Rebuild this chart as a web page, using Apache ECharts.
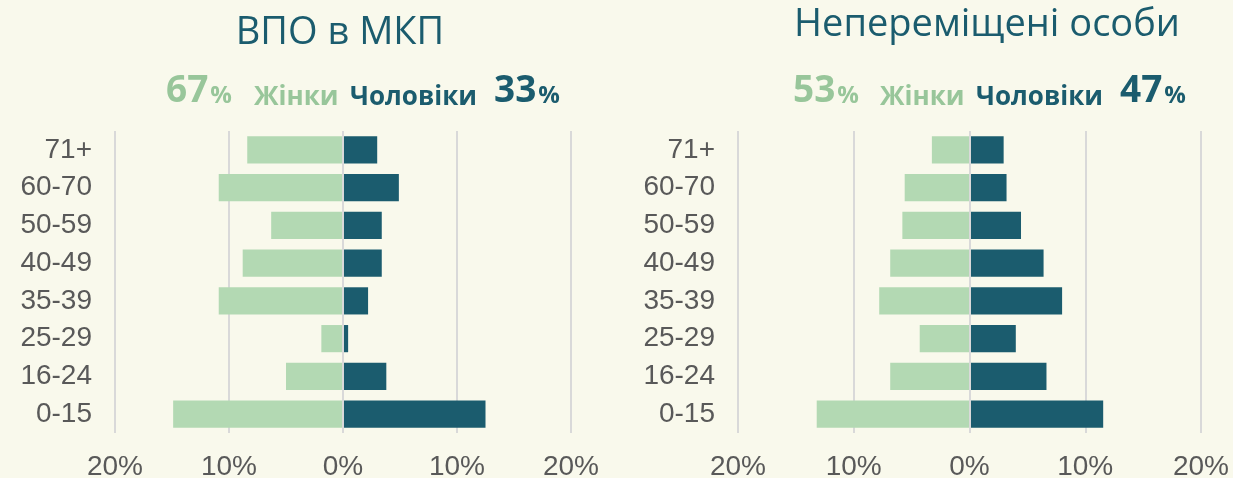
<!DOCTYPE html>
<html>
<head>
<meta charset="utf-8">
<script src="https://cdn.jsdelivr.net/npm/echarts@6/dist/echarts.min.js"></script>
<style>
	html, body { margin: 0; padding: 0; background: #f9f9ec; }
	#pyramid { width: 1233px; height: 478px; }
</style>
</head>
<body>
<div id="pyramid"></div>
<script>
// вікові групи, знизу вгору
var ageGroups = ['0-15', '16-24', '25-29', '35-39', '40-49', '50-59', '60-70', '71+'];

// ВПО в МКП, % від усіх осіб
var idpWomen = [14.9, 5.0, 1.9, 10.9, 8.8, 6.3, 10.9, 8.4];
var idpMen = [12.5, 3.8, 0.45, 2.2, 3.4, 3.4, 4.9, 3.0];

// Непереміщені особи, %
var residentWomen = [13.2, 6.85, 4.3, 7.8, 6.85, 5.8, 5.6, 3.25];
var residentMen = [11.55, 6.65, 4.0, 8.0, 6.4, 4.45, 3.2, 2.95];

var panelTitles = ['ВПО в МКП', 'Непереміщені особи'];
var womenShare = [67, 53];
var menShare = [33, 47];
var xTicks = [-20, -10, 0, 10, 20];

window.onload = function () {
	var chart = echarts.init(document.getElementById('pyramid'));

	var green = '#b3d9b3';
	var greenText = '#98c69a';
	var teal = '#1b5c6e';
	var grey = '#595959';

	/* сітки двох пірамід */
	var grids = [
		{ left: 115, right: 662, top: 131, bottom: 45, containLabel: false, outerBoundsMode: 'none' },
		{ left: 738, right: 32, top: 131, bottom: 45, containLabel: false, outerBoundsMode: 'none' }
	];

	var xAxes = grids.map(function (g, i) {
		return {
			type: 'value',
			gridIndex: i,
			min: xTicks[0],
			max: xTicks[xTicks.length - 1],
			interval: 10,
			axisLine: { show: false },
			axisTick: { show: false },
			axisLabel: {
				color: grey,
				fontFamily: 'Liberation Sans',
				fontSize: 28,
				margin: 20,
				formatter: function (v) { return Math.abs(v) + '%'; }
			},
			splitLine: { show: true, lineStyle: { color: '#d9d9d9', width: 2 } }
		};
	});

	var yAxes = grids.map(function (g, i) {
		return {
			type: 'category',
			gridIndex: i,
			data: ageGroups,
			axisLine: { show: false },
			axisTick: { show: false },
			axisLabel: {
				color: grey,
				fontFamily: 'Liberation Sans',
				fontSize: 28,
				margin: 23
			}
		};
	});

	function neg(arr) {
		return arr.map(function (v) { return -v; });
	}

	function womenSeries(data, i) {
		return {
			name: 'Жінки',
			type: 'bar',
			xAxisIndex: i,
			yAxisIndex: i,
			stack: 'p' + i,
			barCategoryGap: '28%',
			itemStyle: { color: green },
			data: neg(data)
		};
	}

	function menSeries(data, i) {
		return {
			name: 'Чоловіки',
			type: 'bar',
			xAxisIndex: i,
			yAxisIndex: i,
			stack: 'p' + i,
			barCategoryGap: '28%',
			itemStyle: { color: teal },
			data: data,
			markLine: {
				silent: true,
				symbol: 'none',
				label: { show: false },
				lineStyle: { color: '#d9d9d9', width: 2, type: 'solid' },
				data: [{ xAxis: 0 }]
			}
		};
	}

	/* заголовки та підписи часток */
	var heads = [
		{ cx: 340, ty: 14, sub: [166, 254, 350, 494] },
		{ cx: 987, ty: 6, sub: [793, 880, 976, 1120] }
	];
	var graphics = [];
	heads.forEach(function (h, i) {
		graphics.push({
			type: 'text',
			x: h.cx,
			y: h.ty,
			style: {
				text: panelTitles[i],
				fill: teal,
				font: '38px "Open Sans"',
				textAlign: 'center',
				textVerticalAlign: 'top'
			}
		});
		var base = 110;
		var pct = function (n, col, x) {
			return {
				type: 'text',
				x: x,
				y: base,
				style: {
					text: '{n|' + n + '}{p|%}',
					textAlign: 'left',
					textVerticalAlign: 'bottom',
					rich: {
						n: { fontFamily: 'Open Sans', fontWeight: 'bold', fontSize: 37, fill: col, verticalAlign: 'bottom', lineHeight: 40 },
						p: { fontFamily: 'Open Sans', fontWeight: 'bold', fontSize: 24, fill: col, verticalAlign: 'bottom', lineHeight: 40, padding: [0, 0, 2, 2] }
					}
				}
			};
		};
		var word = function (txt, col, x) {
			return {
				type: 'text',
				x: x,
				y: base + 1,
				style: {
					text: txt,
					fill: col,
					font: 'bold 26px "Open Sans"',
					textAlign: 'left',
					textVerticalAlign: 'bottom'
				}
			};
		};
		graphics.push(pct(womenShare[i], greenText, h.sub[0]));
		graphics.push(word('Жінки', greenText, h.sub[1]));
		graphics.push(word('Чоловіки', teal, h.sub[2]));
		graphics.push(pct(menShare[i], teal, h.sub[3]));
	});

	chart.setOption({
		backgroundColor: '#f9f9ec',
		animation: false,
		grid: grids,
		xAxis: xAxes,
		yAxis: yAxes,
		graphic: graphics,
		series: [
			womenSeries(idpWomen, 0),
			menSeries(idpMen, 0),
			womenSeries(residentWomen, 1),
			menSeries(residentMen, 1)
		]
	});
};
</script>
</body>
</html>
